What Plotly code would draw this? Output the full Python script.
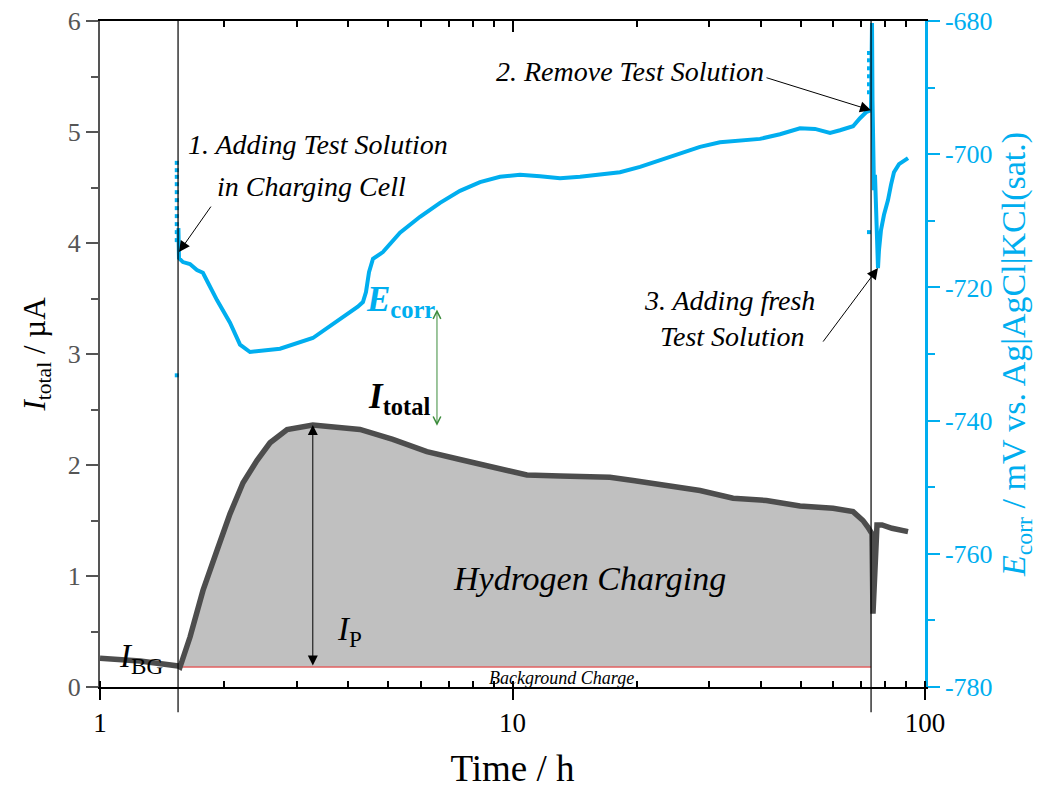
import numpy as np
import plotly.graph_objects as go

# ---------------- data ----------------
# event times (h): 1. adding test solution, 2./3. removing / adding fresh solution
event_t = [1.546, 74.0]
background_current = 0.18  # µA

# total current (µA) vs time (h)
itot_t = [1.000, 1.250, 1.546, 1.563, 1.653, 1.777, 1.921, 2.066, 2.222, 2.401, 2.583,
          2.842, 3.281, 3.884, 4.268, 5.128, 6.199, 7.459, 8.975, 10.84, 13.05, 17.22,
          19.60, 23.68, 28.48, 34.26, 41.25, 49.77, 59.85, 66.92, 70.73, 72.68, 74.39,
          74.80, 75.64, 76.49, 78.66, 83.17, 90.96]
itot_val = [0.26, 0.235, 0.19, 0.18, 0.45, 0.87, 1.23, 1.56, 1.84, 2.04, 2.20,
            2.32, 2.36, 2.34, 2.32, 2.23, 2.12, 2.05, 1.98, 1.91, 1.90, 1.89,
            1.86, 1.82, 1.77, 1.70, 1.68, 1.63, 1.61, 1.58, 1.50, 1.44, 1.38,
            0.66, 1.20, 1.46, 1.46, 1.43, 1.40]

# corrosion potential (mV vs Ag|AgCl|KCl(sat.)) vs time (h)
ecorr_t = [1.549, 1.554, 1.589, 1.652, 1.718, 1.776, 1.817, 1.921, 2.066, 2.185, 2.310,
           2.512, 2.732, 3.281, 3.967, 4.217, 4.339, 4.414, 4.489, 4.590, 4.851, 5.337,
           5.968, 6.673, 7.459, 8.342, 9.326, 10.43, 11.66, 13.04, 14.58, 16.30, 18.22,
           20.38, 22.79, 25.47, 28.48, 31.84, 35.61, 39.81, 44.51, 49.77, 54.12, 58.85,
           62.23, 66.92, 69.58, 71.95, 73.98, 74.39, 74.60, 74.80, 75.22, 75.64, 76.06,
           76.49, 76.92, 77.35, 78.22, 79.54, 81.34, 82.71, 84.09, 86.49, 90.96]
ecorr_val = [-711.1, -715.6, -716.2, -716.5, -717.4, -717.8, -719.0, -721.9, -725.3, -728.6, -729.7,
             -729.5, -729.2, -727.6, -724.1, -722.9, -722.2, -720.7, -717.7, -715.7, -714.7, -711.8,
             -709.4, -707.3, -705.5, -704.2, -703.4, -703.1, -703.3, -703.6, -703.4, -703.1, -702.7,
             -701.9, -700.9, -699.8, -698.9, -698.2, -698.0, -697.7, -697.0, -696.1, -696.2, -696.8,
             -696.4, -695.8, -694.6, -693.7, -693.4, -680.3, -691.9, -701.9, -705.4, -703.1, -706.9,
             -712.9, -717.1, -714.4, -711.4, -709.1, -706.9, -704.6, -702.7, -701.5, -700.6]

# scattered single potential readings around the solution exchanges
edot_t = [1.535] * 12 + [73.15] * 7
edot_val = [-701.3, -702.4, -703.4, -704.5, -705.7, -706.9, -708.1, -709.3, -710.5, -711.7,
            -712.9, -733.2,
            -684.8, -685.9, -687.1, -688.3, -689.5, -690.7, -711.7]

y1_ticks = [0, 1, 2, 3, 4, 5, 6]
y2_ticks = [-780, -760, -740, -720, -700, -680]
y2_ticktext = ["-780", "-760", "-740", "-720", "-700", "-680"]
x_ticks = [1, 10, 100]

# ---------------- styles ----------------
FONT = "Liberation Serif, Times New Roman, serif"
CYAN = "#00AEEF"
DARK = "#4D4D4D"
GRAY_AX = "#555555"

fig = go.Figure()

# filled hydrogen charging area (between I_total and background level, between events)
t_arr = np.array(itot_t)
i_arr = np.array(itot_val)
mask = (t_arr >= event_t[0]) & (t_arr <= event_t[1])
i_end = float(np.interp(np.log10(event_t[1]), np.log10(t_arr), i_arr))
fill_t = [event_t[0]] + list(t_arr[mask]) + [event_t[1], event_t[1], event_t[0]]
fill_i = [background_current] + list(i_arr[mask]) + [i_end, background_current, background_current]
fig.add_trace(go.Scatter(x=fill_t, y=fill_i, fill="toself", fillcolor="#C0C0C0",
                         line=dict(width=0), mode="lines", hoverinfo="skip", showlegend=False))

# background charge line
fig.add_trace(go.Scatter(x=event_t, y=[background_current, background_current], mode="lines",
                         line=dict(color="#E06060", width=1.3), showlegend=False))

# total current
fig.add_trace(go.Scatter(x=itot_t, y=itot_val, mode="lines",
                         line=dict(color=DARK, width=5.5), showlegend=False))

# Ecorr
fig.add_trace(go.Scatter(x=ecorr_t, y=ecorr_val, mode="lines", yaxis="y2",
                         line=dict(color=CYAN, width=4), showlegend=False))
fig.add_trace(go.Scatter(x=edot_t, y=edot_val, mode="markers", yaxis="y2",
                         marker=dict(color=CYAN, size=4, symbol="square", line=dict(width=0)),
                         showlegend=False))

# invisible trace for top axis
fig.add_trace(go.Scatter(x=[1, 100], y=[0, 0], xaxis="x2", mode="lines",
                         line=dict(width=0), hoverinfo="skip", showlegend=False))

# event vertical lines (extend below the axis)
for t in event_t:
    fig.add_shape(type="line", xref="x", yref="paper", x0=t, x1=t, y0=-0.038, y1=1,
                  line=dict(color="black", width=1.2))

lg = np.log10


def txt(x, y, text, size=28, color="black", yref="y", **kw):
    fig.add_annotation(x=lg(x), y=y, xref="x", yref=yref, text=text, showarrow=False,
                       font=dict(family=FONT, size=size, color=color), **kw)


# text labels
txt(3.38, 4.883, "<i>1. Adding Test Solution</i>")
txt(3.26, 4.505, "<i>in Charging Cell</i>")
txt(19.3, 5.541, "<i>2. Remove Test Solution</i>")
txt(33.5, 3.486, "<i>3. Adding fresh</i>")
txt(34.0, 3.162, "<i>Test Solution</i>")
txt(15.33, 0.982, "<i>Hydrogen Charging</i>", size=34)
txt(13.11, 0.081, "<i>Background Charge</i>", size=18)
txt(1.26, 0.26, "<i>I</i><sub>BG</sub>", size=33)
txt(4.02, 0.50, "<i>I</i><sub>P</sub>", size=33)
txt(5.36, 3.47, "<b><i>E</i><sub>corr</sub></b>", size=35, color=CYAN)
txt(5.31, 2.60, "<b><i>I</i><sub>total</sub></b>", size=35)


# pointer arrows
def arrow(t, v, ax, ay, yref):
    fig.add_annotation(x=lg(t), y=v, xref="x", yref=yref, ax=ax, ay=ay, text="",
                       showarrow=True, arrowhead=2, arrowsize=2.2, arrowwidth=1,
                       arrowcolor="black", standoff=0)


arrow(1.554, -714.7, 33, -47, "y2")
arrow(73.98, -693.4, -106, -33, "y2")
arrow(76.92, -717.1, -56, 75, "y2")

# I_P double arrow
ip_t = 3.28
fig.add_annotation(x=lg(ip_t), y=2.36, ax=lg(ip_t), ay=background_current, xref="x", yref="y",
                   axref="x", ayref="y", text="", showarrow=True, arrowhead=2, startarrowhead=2,
                   arrowside="end+start", arrowsize=2.0, startarrowsize=2.0, arrowwidth=1,
                   arrowcolor="black", standoff=0, startstandoff=0)
# green double arrow between E_corr and I_total labels
g_t = 6.56
fig.add_annotation(x=lg(g_t), y=3.40, ax=lg(g_t), ay=2.34, xref="x", yref="y",
                   axref="x", ayref="y", text="", showarrow=True, arrowhead=5, startarrowhead=5,
                   arrowside="end+start", arrowsize=1.5, startarrowsize=1.5, arrowwidth=1,
                   arrowcolor="#3C8C3C", standoff=0, startstandoff=0)

fig.update_layout(
    width=1049, height=789, autosize=False,
    margin=dict(l=100, r=124, t=21, b=102),
    plot_bgcolor="white", paper_bgcolor="white",
    font=dict(family=FONT),
    xaxis=dict(type="log", range=[0, 2], tickvals=x_ticks, ticktext=[str(v) for v in x_ticks],
               automargin=False,
               showline=True, linecolor="black", linewidth=2,
               ticks="outside", ticklen=11, tickwidth=2, tickcolor="black",
               minor=dict(dtick="D1", ticks="inside", ticklen=6, tickwidth=1.5, tickcolor="black"),
               showgrid=False, zeroline=False,
               tickfont=dict(family=FONT, size=27, color="black"),
               title=dict(text="Time / h", font=dict(family=FONT, size=37, color="black"), standoff=24)),
    xaxis2=dict(type="log", range=[0, 2], dtick=1, overlaying="x", side="top", anchor="y",
                automargin=False,
                showline=True, linecolor="black", linewidth=2,
                ticks="inside", ticklen=11, tickwidth=2, tickcolor="black",
                minor=dict(dtick="D1", ticks="inside", ticklen=6, tickwidth=1.5, tickcolor="black"),
                showticklabels=False, showgrid=False, zeroline=False),
    yaxis=dict(range=[0, 6], tickvals=y1_ticks, automargin=False,
               showline=True, linecolor=GRAY_AX, linewidth=2,
               ticks="outside", ticklen=12, tickwidth=2, tickcolor=GRAY_AX,
               minor=dict(dtick=0.5, ticks="outside", ticklen=7, tickwidth=2, tickcolor=GRAY_AX),
               showgrid=False, zeroline=False,
               tickfont=dict(family=FONT, size=26, color=GRAY_AX),
               title=dict(text="<i>I</i><sub>total</sub> / µA",
                          font=dict(family=FONT, size=31, color="black"), standoff=13)),
    yaxis2=dict(range=[-780, -680], tickvals=y2_ticks, ticktext=y2_ticktext,
                overlaying="y", side="right", anchor="x", automargin=False,
                showline=True, linecolor=CYAN, linewidth=2.5,
                ticks="outside", ticklen=12, tickwidth=2, tickcolor=CYAN,
                minor=dict(dtick=10, ticks="outside", ticklen=7, tickwidth=2, tickcolor=CYAN),
                showgrid=False, zeroline=False,
                tickfont=dict(family=FONT, size=26, color=CYAN),
                title=dict(text="<i>E</i><sub>corr</sub> / mV vs. Ag|AgCl|KCl(sat.)",
                           font=dict(family=FONT, size=34, color=CYAN), standoff=10)),
)

fig.write_html("out.html", config={"displayModeBar": False},
               post_script="document.body.style.margin='0';")
